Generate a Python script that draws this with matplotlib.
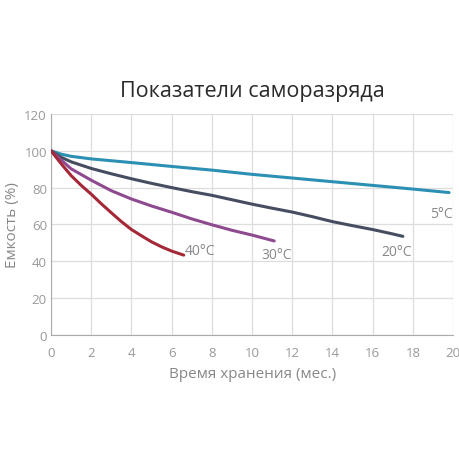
import matplotlib
matplotlib.use("Agg")
import matplotlib.pyplot as plt

# values (months, capacity %)
x_5c = [0, 0.5, 1, 2, 4, 6, 8, 10, 12, 14, 16, 18, 19.8]
y_5c = [100, 98.2, 97, 95.6, 93.6, 91.5, 89.5, 87.2, 85.2, 83.2, 81.2, 79.2, 77.3]
x_20c = [0, 0.5, 1, 2, 3, 4, 5, 6, 7, 8, 9, 10, 11, 12, 13, 14, 15, 16, 17, 17.5]
y_20c = [100, 96.5, 94, 90.4, 87.5, 84.8, 82.3, 80, 77.8, 75.8, 73.4, 71, 68.8,
         66.7, 64.2, 61.5, 59.3, 57.2, 54.8, 53.5]
x_30c = [0, 0.5, 1, 2, 3, 4, 5, 6, 7, 8, 9, 10, 11.1]
y_30c = [100, 95, 90.2, 84, 78.3, 73.8, 70, 66.6, 63, 59.8, 56.8, 54.2, 51]
x_40c = [0, 0.5, 1, 1.5, 2, 2.5, 3, 3.5, 4, 4.5, 5, 5.5, 6, 6.6]
y_40c = [100, 93, 86.5, 81.2, 76.4, 71.2, 66.3, 61.5, 57.2, 53.8, 50.5, 47.8, 45.5, 43.3]

series = [
    (x_5c, y_5c, "#2b90b3", "5°C"),
    (x_20c, y_20c, "#474d60", "20°C"),
    (x_30c, y_30c, "#8e4a8e", "30°C"),
    (x_40c, y_40c, "#a52838", "40°C"),
]
# label anchors (data coords)
label_pos = {"5°C": (19.4, 66), "20°C": (17.2, 45), "30°C": (11.2, 43.5), "40°C": (7.4, 46)}

plt.rcParams["font.family"] = ["Open Sans", "DejaVu Sans"]

fig = plt.figure(figsize=(4.6, 4.6), dpi=100)
ax = fig.add_axes([0.111, 0.27, 0.874, 0.48])

for xs, ys, col, name in series:
    ax.plot(xs, ys, color=col, lw=2.2, solid_capstyle="round",
            solid_joinstyle="round", zorder=3)
    lx, ly = label_pos[name]
    ax.text(lx, ly, name, color="#888888", fontsize=10, ha="center", va="center")

ax.set_xlim(0, 20)
ax.set_ylim(0, 120)
ax.set_xticks(range(0, 21, 2))
ax.set_yticks(range(0, 121, 20))
ax.grid(True, color="#dddddd", lw=0.9)
ax.set_axisbelow(True)
for s in ["top", "right"]:
    ax.spines[s].set_visible(False)
for s in ["left", "bottom"]:
    ax.spines[s].set_color("#aaaaaa")
ax.tick_params(length=0, colors="#999999", labelsize=9.5)
ax.tick_params(axis="x", pad=8)
ax.tick_params(axis="y", pad=3)

ax.set_xlabel("Время хранения (мес.)", color="#888888", fontsize=11, labelpad=5)
ax.set_ylabel("Емкость (%)", color="#888888", fontsize=11)
ax.yaxis.label.set_va("center")
ax.yaxis.set_label_coords(-0.097, 0.5)

ax.set_title("Показатели саморазряда", fontsize=15.5, color="#2a2a2a", pad=13)

fig.savefig("out.png", dpi=100, facecolor="white")
